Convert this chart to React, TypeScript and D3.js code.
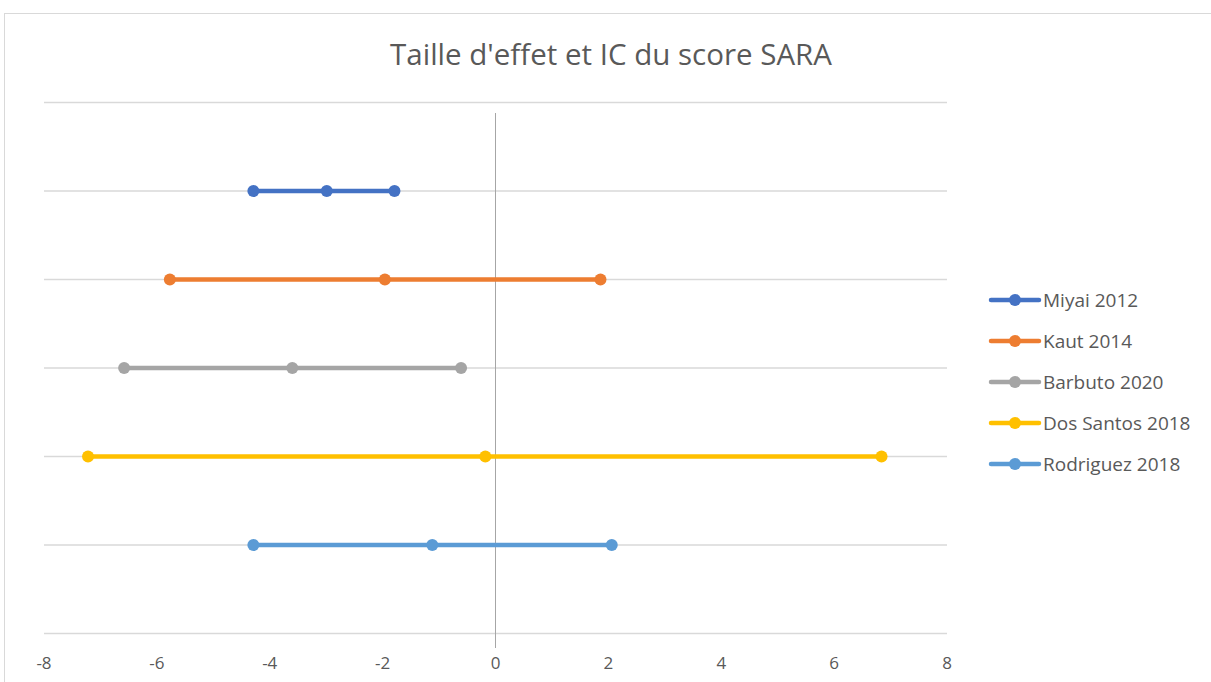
import React from "react";
import * as d3 from "d3";

const seriesNames = ["Miyai 2012", "Kaut 2014", "Barbuto 2020", "Dos Santos 2018", "Rodriguez 2018"];
const seriesColors = ["#4472C4", "#ED7D31", "#A5A5A5", "#FFC000", "#5B9BD5"];
const seriesY = [5, 4, 3, 2, 1];
const lowValues = [-4.29, -5.77, -6.58, -7.22, -4.29];
const effectValues = [-2.99, -1.96, -3.60, -0.18, -1.12];
const highValues = [-1.79, 1.86, -0.61, 6.84, 2.06];
const xTicks = [-8, -6, -4, -2, 0, 2, 4, 6, 8];
const yGrid = [0, 1, 2, 3, 4, 5, 6];
const title = "Taille d'effet et IC du score SARA";

const W = 1211;
const H = 682;
const FONT = "'Open Sans', sans-serif";

export default function App() {
  const x = d3.scaleLinear().domain([-8, 8]).range([44, 947]);
  const y = d3.scaleLinear().domain([0, 6]).range([633.5, 102.5]);
  const line = d3.line<[number, number]>().x(d => x(d[0])).y(d => y(d[1]));

  return (
    <svg width={W} height={H} style={{ position: "absolute", left: 0, top: 0, background: "#fff" }}>
      <rect x={4.5} y={13.5} width={W + 10} height={H + 10} fill="#fff" stroke="#d9d9d9" strokeWidth={1} />
      <text x={611} y={65} textAnchor="middle" fontFamily={FONT} fontSize={29.5} fill="#595959">{title}</text>
      {yGrid.map(v => (
        <line key={v} x1={x(-8)} x2={x(8)} y1={y(v)} y2={y(v)} stroke="#d9d9d9" strokeWidth={1.3} />
      ))}
      <line x1={x(0)} x2={x(0)} y1={113} y2={648} stroke="#a6a6a6" strokeWidth={1} />
      {xTicks.map(t => (
        <text key={t} x={x(t)} y={669} textAnchor="middle" fontFamily={FONT} fontSize={17} fill="#595959">{t}</text>
      ))}
      {seriesNames.map((name, i) => {
        const pts: [number, number][] = [
          [lowValues[i], seriesY[i]],
          [effectValues[i], seriesY[i]],
          [highValues[i], seriesY[i]],
        ];
        return (
          <g key={name}>
            <path d={line(pts) || ""} stroke={seriesColors[i]} strokeWidth={4.5} fill="none" strokeLinecap="round" />
            {pts.map((p, j) => (
              <circle key={j} cx={x(p[0])} cy={y(p[1])} r={6} fill={seriesColors[i]} />
            ))}
          </g>
        );
      })}
      {seriesNames.map((name, i) => {
        const ly = 300 + i * 41;
        return (
          <g key={name}>
            <line x1={991} x2={1039} y1={ly} y2={ly} stroke={seriesColors[i]} strokeWidth={4.5} strokeLinecap="round" />
            <circle cx={1015} cy={ly} r={6} fill={seriesColors[i]} />
            <text x={1043} y={ly + 6.5} fontFamily={FONT} fontSize={19} fill="#595959">{name}</text>
          </g>
        );
      })}
    </svg>
  );
}
